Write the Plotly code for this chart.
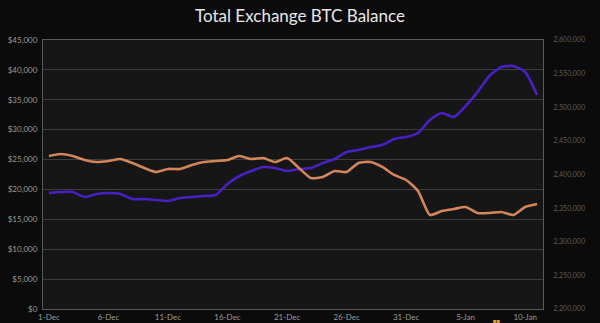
import plotly.graph_objects as go

dates = ["1-Dec","2-Dec","3-Dec","4-Dec","5-Dec","6-Dec","7-Dec","8-Dec","9-Dec","10-Dec",
         "11-Dec","12-Dec","13-Dec","14-Dec","15-Dec","16-Dec","17-Dec","18-Dec","19-Dec","20-Dec",
         "21-Dec","22-Dec","23-Dec","24-Dec","25-Dec","26-Dec","27-Dec","28-Dec","29-Dec","30-Dec",
         "31-Dec","1-Jan","2-Jan","3-Jan","4-Jan","5-Jan","6-Jan","7-Jan","8-Jan","9-Jan",
         "10-Jan","11-Jan"]

btc_price = [19400, 19570, 19570, 18740, 19240, 19400, 19240, 18400, 18400, 18230,
             18070, 18570, 18740, 18900, 19070, 20910, 22250, 23090, 23750, 23590,
             23090, 23420, 23590, 24420, 25090, 26260, 26600, 27100, 27430, 28440,
             28770, 29440, 31620, 32790, 32120, 33960, 36300, 38980, 40480, 40650,
             39650, 35800]

exchange_balance = [2427500, 2430500, 2427500, 2421600, 2418600, 2420100, 2423000, 2417100, 2409700, 2403700,
                    2408200, 2408200, 2414100, 2418600, 2420100, 2421600, 2427500, 2423000, 2424500, 2418600,
                    2424500, 2409700, 2394800, 2396300, 2405200, 2403700, 2417100, 2418600, 2411200, 2399300,
                    2391800, 2375500, 2339800, 2345700, 2348700, 2351700, 2342800, 2342800, 2344200, 2339800,
                    2351700, 2356100]

tick_dates = ["1-Dec", "6-Dec", "11-Dec", "16-Dec", "21-Dec", "26-Dec", "31-Dec", "5-Jan", "10-Jan"]

fig = go.Figure()
fig.add_trace(go.Scatter(x=dates, y=exchange_balance, yaxis="y2", mode="lines",
                         line=dict(color="#d4865a", width=2.6, shape="spline", smoothing=0.6),
                         name="Exchange Balance"))
fig.add_trace(go.Scatter(x=dates, y=btc_price, mode="lines",
                         line=dict(color="#4a1fc4", width=2.6, shape="spline", smoothing=0.6),
                         name="BTC Price"))

fig.update_layout(
    width=600, height=323,
    margin=dict(l=43, r=57, t=40, b=14),
    paper_bgcolor="#0b0b0b",
    plot_bgcolor="#161616",
    showlegend=False,
    title=dict(text="Total Exchange BTC Balance", x=0.5, xanchor="center", y=0.95, yanchor="middle",
               font=dict(family="Lato, Open Sans, sans-serif", size=17, color="#e8e8e8")),
    font=dict(family="Lato, Open Sans, sans-serif"),
    xaxis=dict(type="category", range=[-0.5, len(dates) - 0.5], automargin=False,
               tickmode="array", tickvals=tick_dates, ticktext=tick_dates,
               showgrid=False, showline=True, linecolor="#5a5a5a", linewidth=1, mirror=True,
               ticks="", tickfont=dict(size=8, color="#9a9a9a"), ticklabelstandoff=0),
    yaxis=dict(range=[0, 45000], dtick=5000, tickprefix="$", tickformat=",", automargin=False,
               showgrid=True, gridcolor="#3c3c3c", gridwidth=1,
               showline=True, linecolor="#5a5a5a", linewidth=1, zeroline=False,
               tickfont=dict(size=8, color="#9a9a9a"), ticklabelstandoff=3),
    yaxis2=dict(range=[2200000, 2600000], dtick=50000, tickformat=",", automargin=False,
                overlaying="y", side="right", showgrid=False, zeroline=False,
                showline=True, linecolor="#5a5a5a", linewidth=1,
                tickfont=dict(size=7, color="#5c5c5c"), ticklabelstandoff=8),
    annotations=[dict(text="■■", x=(497 - 43) / 500, y=-(320 - 309) / 269,
                      xref="paper", yref="paper", xanchor="center", yanchor="middle",
                      showarrow=False, font=dict(size=6, color="#e0a030"))],
)

fig.write_html("out.html")
